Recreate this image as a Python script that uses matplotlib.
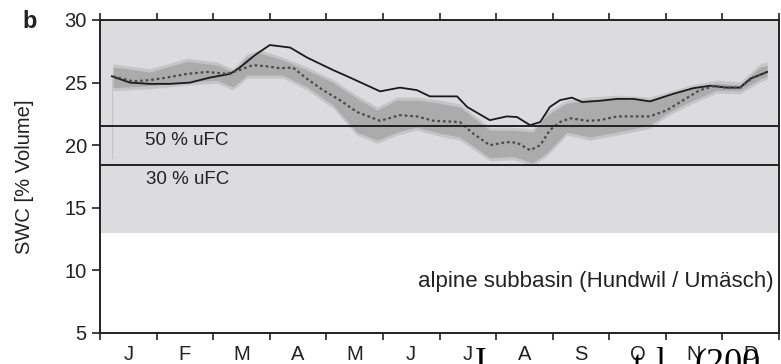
import matplotlib
matplotlib.use("Agg")
import matplotlib.pyplot as plt
import numpy as np

plt.rcParams['font.family'] = ['Liberation Sans', 'DejaVu Sans']

# x in months since 1 Jan (0..12)
months = ['J', 'F', 'M', 'A', 'M', 'J', 'J', 'A', 'S', 'O', 'N', 'D']

# solid line
sol_x = [0.21, 0.53, 0.88, 1.24, 1.59, 1.94, 2.30, 2.47, 2.74, 3.00, 3.36, 3.66,
         4.12, 4.42, 4.95, 5.30, 5.60, 5.83, 6.31, 6.49, 6.89, 7.19, 7.37, 7.60,
         7.78, 7.95, 8.13, 8.34, 8.52, 8.84, 9.14, 9.42, 9.72, 10.13, 10.48,
         10.78, 11.08, 11.31, 11.49, 11.79]
sol_y = [25.5, 25.0, 24.9, 24.9, 25.0, 25.4, 25.7, 26.2, 27.2, 28.0, 27.8, 27.0,
         26.0, 25.4, 24.3, 24.6, 24.4, 23.9, 23.9, 23.05, 22.0, 22.3, 22.25, 21.6,
         21.85, 23.05, 23.6, 23.8, 23.45, 23.55, 23.7, 23.7, 23.5, 24.1, 24.55,
         24.75, 24.6, 24.6, 25.3, 25.85]

# dotted line
dot_x = [0.23, 0.58, 0.88, 1.18, 1.54, 1.89, 2.24, 2.47, 2.70, 2.95, 3.18, 3.41,
         3.66, 3.94, 4.24, 4.54, 4.95, 5.30, 5.60, 5.89, 6.36, 6.59, 6.89, 7.19,
         7.37, 7.60, 7.78, 7.95, 8.13, 8.31, 8.61, 8.84, 9.14, 9.42, 9.72, 10.02,
         10.31, 10.60, 10.83, 11.08, 11.31, 11.54, 11.79]
dot_y = [25.5, 25.1, 25.2, 25.4, 25.7, 25.85, 25.7, 26.0, 26.4, 26.3, 26.15, 26.2,
         25.3, 24.4, 23.6, 22.65, 21.95, 22.4, 22.3, 21.95, 21.85, 20.95, 20.0, 20.25,
         20.2, 19.6, 20.0, 21.2, 21.85, 22.15, 21.95, 22.0, 22.3, 22.3, 22.3, 22.8,
         23.6, 24.4, 24.7, 24.6, 24.6, 25.4, 25.85]

# range band
band_x = [0.23, 0.88, 1.54, 2.07, 2.35, 2.60, 2.83, 3.23, 3.66, 4.12, 4.54, 4.90,
          5.25, 5.60, 6.01, 6.36, 6.89, 7.30, 7.65, 7.90, 8.25, 8.66, 9.14, 9.72,
          10.02, 10.48, 10.90, 11.31, 11.67, 11.79]
band_lo = [24.6, 24.75, 25.05, 25.2, 24.65, 25.6, 25.6, 25.6, 24.65, 23.2, 21.05, 20.4,
           21.05, 21.45, 20.95, 20.65, 19.0, 19.1, 18.6, 19.4, 21.05, 20.65, 21.05, 21.6,
           22.55, 23.6, 24.4, 24.35, 25.3, 25.5]
band_hi = [26.25, 25.85, 26.7, 26.4, 25.85, 27.05, 27.35, 26.8, 26.0, 25.0, 23.75, 22.8,
           23.6, 23.6, 23.35, 23.05, 21.2, 21.2, 21.05, 22.4, 23.35, 23.6, 23.75, 23.6,
           24.0, 24.6, 24.95, 24.8, 26.25, 26.4]

ufc_levels = [21.5, 18.45]
ufc_labels = ['50 % uFC', '30 % uFC']

fig = plt.figure(figsize=(7.81, 3.64), dpi=100)
ax = fig.add_axes([100 / 781, 31 / 364, 679 / 781, 313 / 364])

ax.axhspan(13.0, 30, color='#dcdcdf', lw=0, zorder=0)
# soft edge + core of the band
bl = np.array(band_lo)
bh = np.array(band_hi)
ax.fill_between(band_x, bl - 0.25, bh + 0.25, color='#ababab', alpha=0.45, lw=0, zorder=1)
ax.fill_between(band_x, bl, bh, color='#ababab', lw=0, zorder=1)
ax.plot([0.21, 0.21], [19.0, 25.3], color='#c4c4c4', lw=0.8, zorder=1)

ax.plot(sol_x, sol_y, color='#1a1a1a', lw=1.3, zorder=3)
ax.plot(dot_x, dot_y, color='#4a4a4a', lw=1.6, ls=(0, (1.2, 1.3)), zorder=3)

for lev, lab in zip(ufc_levels, ufc_labels):
    ax.axhline(lev, color='#222222', lw=1.4, zorder=4)
    ax.text(1.54, lev - 1.15, lab, ha='center', va='center', fontsize=13.5, color='#222222')

ax.text(11.9, 9.1, 'alpine subbasin (Hundwil / Umäsch)', ha='right', va='center',
        fontsize=16, color='#222222')

ax.set_xlim(0, 12)
ax.set_ylim(5, 30)
ax.set_yticks([5, 10, 15, 20, 25, 30])
ax.set_xticks(np.arange(0, 13))
ax.set_xticklabels([])
ax.set_xticks(np.arange(0.5, 12), minor=True)
ax.set_xticklabels(months, minor=True)
ax.tick_params(axis='x', which='major', direction='out', length=5, width=1.2,
               top=True, bottom=True, color='#222222')
ax.tick_params(axis='x', which='minor', length=0, labelsize=14.5, pad=9, labelcolor='#222222')
ax.tick_params(axis='y', direction='out', length=6, width=1.2, labelsize=14.5,
               labelcolor='#222222', color='#222222')
for s in ax.spines.values():
    s.set_linewidth(1.4)
    s.set_color('#222222')

ax.set_ylabel('SWC [% Volume]', fontsize=14.5, color='#222222', labelpad=22)
fig.text(22 / 781, 1 - 22 / 364, 'b', fontsize=17, fontweight='bold', ha='left', va='center',
         color='#222222')

# stray caption text from the page underneath
fig.text(471 / 781, 1 - 347 / 364, 'J', family='Liberation Serif', fontsize=26, va='top')
fig.text(633 / 781, 1 - 350 / 364, 't', family='Liberation Serif', fontsize=26, va='top')
fig.text(655 / 781, 1 - 347 / 364, 'l', family='Liberation Serif', fontsize=26, va='top')
fig.text(694 / 781, 1 - 347 / 364, '(200', family='Liberation Serif', fontsize=26, va='top')

fig.savefig('out.png', dpi=100)
